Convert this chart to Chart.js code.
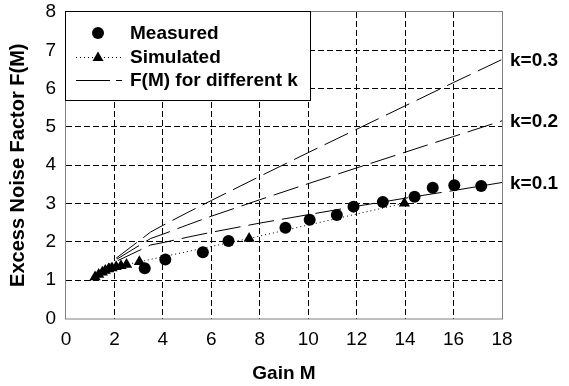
<!DOCTYPE html>
<html>
<head>
<meta charset="utf-8">
<script src="https://cdn.jsdelivr.net/npm/chart.js"></script>
<style>
  html, body { margin: 0; padding: 0; background: #fff; }
  #wrap { width: 569px; height: 386px; }
</style>
</head>
<body>
<div id="wrap"><canvas id="myChart"></canvas></div>
<script>
    // Measured points (gain M, excess noise factor F)
    const measuredM = [3.25, 4.1, 5.65, 6.71, 9.06, 10.06, 11.18, 11.87, 13.08, 14.39, 15.14, 16.03, 17.14];
    const measuredF = [1.31, 1.54, 1.73, 2.02, 2.37, 2.58, 2.70, 2.92, 3.04, 3.18, 3.41, 3.48, 3.46];

    // Simulated points
    const simulatedM = [1.2, 1.35, 1.5, 1.62, 1.76, 1.9, 2.07, 2.27, 2.5, 3.03, 7.56, 13.97];
    const simulatedF = [1.08, 1.15, 1.21, 1.25, 1.29, 1.32, 1.35, 1.38, 1.41, 1.48, 2.09, 3.01];

    // F(M) curves for k = 0.1, 0.2, 0.3
    const curveM = [1, 2, 3.5, 4, 5, 6, 8, 10, 12, 14, 16, 18];
    const curveK01 = [1.0, 1.47, 1.92, 1.98, 2.12, 2.25, 2.49, 2.71, 2.93, 3.14, 3.34, 3.55];
    const curveK02 = [1.0, 1.51, 2.09, 2.20, 2.44, 2.67, 3.10, 3.52, 3.93, 4.34, 4.75, 5.16];
    const curveK03 = [1.0, 1.54, 2.26, 2.43, 2.76, 3.08, 3.71, 4.33, 4.94, 5.55, 6.16, 6.76];
    const kLabels = ['k=0.1', 'k=0.2', 'k=0.3'];

    const legendLabels = ['Measured', 'Simulated', 'F(M) for different k'];
    const xTitle = 'Gain M';
    const yTitle = 'Excess Noise Factor F(M)';

    const toPoints = (xs, ys) => xs.map((x, i) => ({ x: x, y: ys[i] }));

    Chart.defaults.font.family = "'Liberation Sans', Arial, sans-serif";
    Chart.defaults.font.size = 19;
    Chart.defaults.color = '#000';

    const curveStyle = {
        showLine: true,
        pointRadius: 0,
        borderColor: '#000',
        borderWidth: 1,
        borderDash: [26, 8],
        fill: false
    };

    // frame, k labels and the boxed legend
    const extras = {
        id: 'extras',
        afterDraw(chart) {
            const ctx = chart.ctx;
            const a = chart.chartArea;
            const yScale = chart.scales.y;
            ctx.save();

            // plot frame
            ctx.strokeStyle = '#808080';
            ctx.lineWidth = 1;
            ctx.strokeRect(a.left - 0.5, a.top - 0.5, a.right - a.left + 1, a.bottom - a.top + 1);

            // k labels at the end of each curve
            ctx.font = "bold 19px 'Liberation Sans', Arial, sans-serif";
            ctx.fillStyle = '#000';
            ctx.textAlign = 'left';
            ctx.textBaseline = 'middle';
            const ends = [curveK01, curveK02, curveK03];
            kLabels.forEach((t, i) => {
                const v = ends[i][ends[i].length - 1];
                ctx.fillText(t, a.right + 8, yScale.getPixelForValue(v) + 1);
            });

            // legend box
            const bx = a.left - 1, by = a.top - 1, bw = 246, bh = 90;
            ctx.fillStyle = '#fff';
            ctx.fillRect(bx, by, bw, bh);
            ctx.strokeStyle = '#000';
            ctx.strokeRect(bx + 0.5, by + 0.5, bw - 1, bh - 1);

            const mx = bx + 33, tx = bx + 65;
            const rows = [by + 22, by + 46, by + 69];
            ctx.fillStyle = '#000';

            // Measured
            ctx.beginPath();
            ctx.arc(mx, rows[0], 6, 0, Math.PI * 2);
            ctx.fill();

            // Simulated
            ctx.setLineDash([1, 3]);
            ctx.beginPath();
            ctx.moveTo(bx + 11, rows[1] + 0.5);
            ctx.lineTo(bx + 57, rows[1] + 0.5);
            ctx.stroke();
            ctx.setLineDash([]);
            ctx.beginPath();
            ctx.moveTo(mx, rows[1] - 5.5);
            ctx.lineTo(mx + 5.5, rows[1] + 4);
            ctx.lineTo(mx - 5.5, rows[1] + 4);
            ctx.closePath();
            ctx.fill();

            // F(M)
            ctx.setLineDash([34, 6]);
            ctx.beginPath();
            ctx.moveTo(bx + 11, rows[2] + 0.5);
            ctx.lineTo(bx + 57, rows[2] + 0.5);
            ctx.stroke();
            ctx.setLineDash([]);

            ctx.textBaseline = 'middle';
            legendLabels.forEach((t, i) => ctx.fillText(t, tx, rows[i] + 1));
            ctx.restore();
        }
    };

    const gridColor = (edges) => (c) => edges.includes(c.tick.value) ? 'rgba(0,0,0,0)' : '#000';

    const ctx = document.getElementById('myChart').getContext('2d');
    const myChart = new Chart(ctx, {
        type: 'scatter',
        data: {
            datasets: [
                Object.assign({ label: legendLabels[2], data: toPoints(curveM, curveK01) }, curveStyle),
                Object.assign({ label: legendLabels[2], data: toPoints(curveM, curveK02) }, curveStyle),
                Object.assign({ label: legendLabels[2], data: toPoints(curveM, curveK03) }, curveStyle),
                {
                    label: legendLabels[1],
                    data: toPoints(simulatedM, simulatedF),
                    showLine: true,
                    borderColor: '#000',
                    borderWidth: 1,
                    borderDash: [1, 3],
                    pointStyle: 'triangle',
                    pointRadius: 6.5,
                    backgroundColor: '#000',
                    pointBorderWidth: 0
                },
                {
                    label: legendLabels[0],
                    data: toPoints(measuredM, measuredF),
                    showLine: false,
                    pointStyle: 'circle',
                    pointRadius: 6,
                    backgroundColor: '#000',
                    borderColor: '#000',
                    pointBorderWidth: 0
                }
            ]
        },
        options: {
            responsive: true,
            maintainAspectRatio: false,
            animation: false,
            devicePixelRatio: 1,
            layout: { padding: { top: 12, right: 67, left: 0, bottom: 0 } },
            plugins: {
                legend: { display: false },
                tooltip: { enabled: false }
            },
            scales: {
                x: {
                    type: 'linear',
                    min: 0,
                    max: 18,
                    ticks: { stepSize: 2, padding: 10 },
                    grid: { color: gridColor([0, 18]), drawTicks: false, lineWidth: 1 },
                    border: { display: false, dash: [6, 3] },
                    title: { display: true, text: xTitle, font: { weight: 'bold' }, padding: { top: 0, bottom: 1 } },
                    afterFit(scale) { scale.height = 67.5; scale.paddingLeft = 0; scale.paddingRight = 0; }
                },
                y: {
                    type: 'linear',
                    min: 0,
                    max: 8,
                    ticks: { stepSize: 1, padding: 10 },
                    grid: { color: gridColor([0, 8]), drawTicks: false, lineWidth: 1 },
                    border: { display: false, dash: [6, 3] },
                    title: { display: true, text: yTitle, font: { size: 20, weight: 'bold' }, padding: { top: 6, bottom: 0 } },
                    afterFit(scale) { scale.width = 66; scale.paddingTop = 0; scale.paddingBottom = 0; }
                }
            }
        },
        plugins: [extras]
    });
</script>
</body>
</html>
